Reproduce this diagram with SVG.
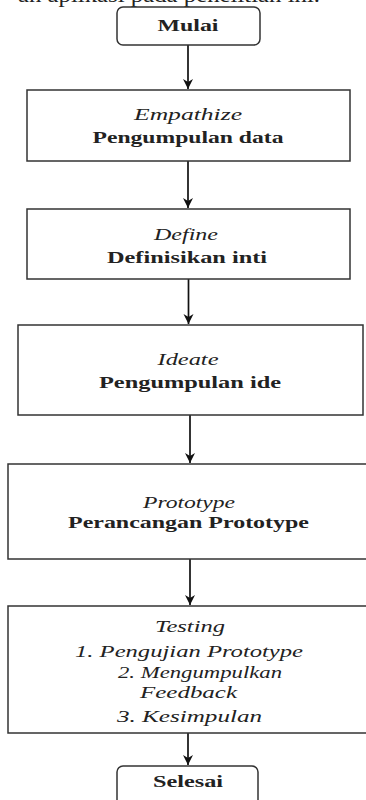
<svg xmlns="http://www.w3.org/2000/svg" width="366" height="800" viewBox="0 0 366 800">
<style>
.box{fill:#fff;stroke:#333;stroke-width:1.5}
.t{font-family:"Liberation Serif","Times New Roman",serif;fill:#222;text-anchor:middle}
.b{font-weight:bold;font-size:17px}
.i{font-style:italic;font-size:16px}
.con{stroke:#111;stroke-width:1.7;fill:none}
</style>
<defs>
<marker id="ah" viewBox="0 0 10 10" refX="10" refY="5" markerWidth="10" markerHeight="11" markerUnits="userSpaceOnUse" orient="auto">
<path d="M0,0 L10,5 L0,10 L3,5 z" fill="#111"/>
</marker>
</defs>
<rect width="366" height="800" fill="#fff"/>
<text x="18" y="2" font-family="Liberation Serif, serif" font-size="21" fill="#222" textLength="302" lengthAdjust="spacingAndGlyphs">an aplikasi pada penelitian ini.</text>
<g id="connectors">
<line class="con" x1="188" y1="45" x2="188" y2="89" marker-end="url(#ah)"/>
<line class="con" x1="188" y1="161" x2="188" y2="208" marker-end="url(#ah)"/>
<line class="con" x1="188.5" y1="279" x2="188.5" y2="324" marker-end="url(#ah)"/>
<line class="con" x1="190" y1="415" x2="190" y2="463" marker-end="url(#ah)"/>
<line class="con" x1="190" y1="559" x2="190" y2="605" marker-end="url(#ah)"/>
<line class="con" x1="188" y1="733" x2="188" y2="765" marker-end="url(#ah)"/>
</g>
<g id="mulai">
<rect class="box" x="117" y="7" width="143" height="38" rx="6"/>
<text class="t b" x="188" y="31" textLength="61" lengthAdjust="spacingAndGlyphs">Mulai</text>
</g>
<g id="empathize">
<rect class="box" x="27" y="90" width="323" height="71"/>
<text class="t i" x="188" y="120" textLength="108" lengthAdjust="spacingAndGlyphs">Empathize</text>
<text class="t b" x="188" y="143" textLength="191" lengthAdjust="spacingAndGlyphs">Pengumpulan data</text>
</g>
<g id="define">
<rect class="box" x="27" y="209" width="323" height="70"/>
<text class="t i" x="186" y="240" textLength="64" lengthAdjust="spacingAndGlyphs">Define</text>
<text class="t b" x="187" y="263" textLength="160" lengthAdjust="spacingAndGlyphs">Definisikan inti</text>
</g>
<g id="ideate">
<rect class="box" x="18" y="325" width="345" height="90"/>
<text class="t i" x="188" y="365" textLength="61" lengthAdjust="spacingAndGlyphs">Ideate</text>
<text class="t b" x="190" y="388" textLength="182" lengthAdjust="spacingAndGlyphs">Pengumpulan ide</text>
</g>
<g id="prototype">
<rect class="box" x="8" y="464" width="365" height="95"/>
<text class="t i" x="189" y="508" textLength="92" lengthAdjust="spacingAndGlyphs">Prototype</text>
<text class="t b" x="188.5" y="528" textLength="241" lengthAdjust="spacingAndGlyphs">Perancangan Prototype</text>
</g>
<g id="testing">
<rect class="box" x="8" y="606" width="365" height="127"/>
<text class="t i" x="190" y="632" textLength="70" lengthAdjust="spacingAndGlyphs">Testing</text>
<text class="t i" x="189" y="657" textLength="228" lengthAdjust="spacingAndGlyphs">1. Pengujian Prototype</text>
<text class="t i" x="200" y="678" textLength="164" lengthAdjust="spacingAndGlyphs">2. Mengumpulkan</text>
<text class="t i" x="188.5" y="698" textLength="97" lengthAdjust="spacingAndGlyphs">Feedback</text>
<text class="t i" x="189.5" y="722" textLength="145" lengthAdjust="spacingAndGlyphs">3. Kesimpulan</text>
</g>
<g id="selesai">
<rect class="box" x="117" y="766" width="141" height="44" rx="6"/>
<text class="t b" x="188" y="787" textLength="70" lengthAdjust="spacingAndGlyphs">Selesai</text>
</g>
</svg>
